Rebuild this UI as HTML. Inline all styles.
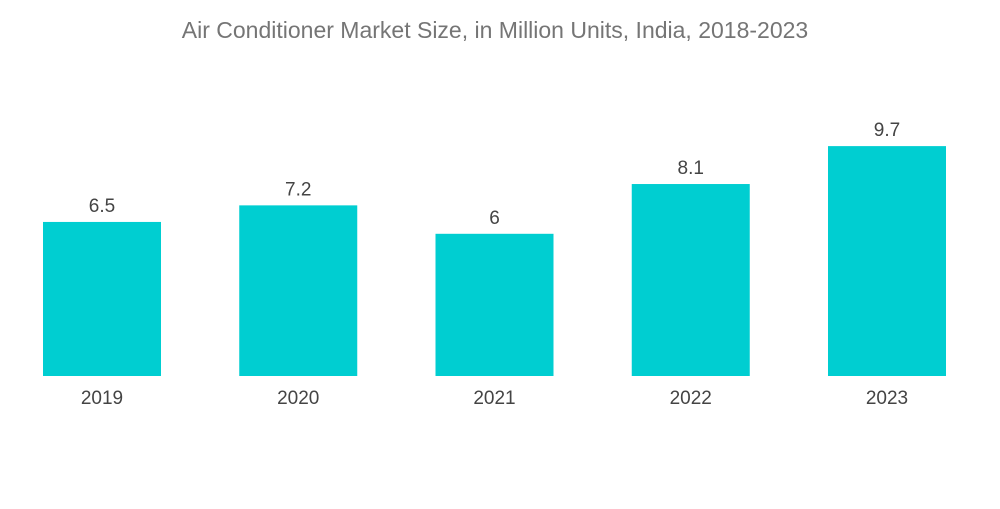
<!DOCTYPE html>
<html><head><meta charset="utf-8"><style>
body{margin:0;background:#fff;font-family:"Liberation Sans",sans-serif;}
</style></head><body>
<svg width="1000" height="504" xmlns="http://www.w3.org/2000/svg">
<text x="495" y="38" text-anchor="middle" font-size="23" fill="#757575" font-family="Liberation Sans, sans-serif">Air Conditioner Market Size, in Million Units, India, 2018-2023</text>
<g id="bars"></g>
</svg>
<script>
const categories = ["2019","2020","2021","2022","2023"];
const values = [6.5,7.2,6,8.1,9.7];
const valueLabels = ["6.5","7.2","6","8.1","9.7"];
const baseY = 376, unit = 23.7, bw = 118, x0 = 43, step = 196.25;
function xs(i){return x0 + i*step;}
function ys(v){return baseY - v*unit;}
const g = document.getElementById('bars');
const NS = "http://www.w3.org/2000/svg";
categories.forEach((c,i)=>{
  const r = document.createElementNS(NS,'rect');
  r.setAttribute('x', xs(i)); r.setAttribute('y', ys(values[i]));
  r.setAttribute('width', bw); r.setAttribute('height', baseY - ys(values[i]));
  r.setAttribute('fill', '#00ced1');
  
  
  g.appendChild(r);
  const t = document.createElementNS(NS,'text');
  t.setAttribute('x', xs(i)+bw/2); t.setAttribute('y', ys(values[i]) - 10);
  t.setAttribute('text-anchor','middle'); t.setAttribute('font-size','19'); t.setAttribute('fill','#444');
  t.textContent = valueLabels[i];
  
  
  g.appendChild(t);
  const l = document.createElementNS(NS,'text');
  l.setAttribute('x', xs(i)+bw/2); l.setAttribute('y', 404);
  l.setAttribute('text-anchor','middle'); l.setAttribute('font-size','19'); l.setAttribute('fill','#444');
  l.textContent = c;
  
  
  g.appendChild(l);
});
</script>
</body></html>
